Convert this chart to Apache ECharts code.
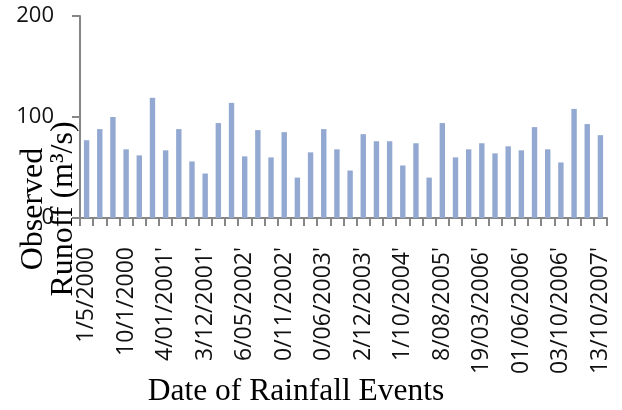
<!DOCTYPE html>
<html>
<head>
<meta charset="utf-8">
<script src="https://cdn.jsdelivr.net/npm/echarts@6/dist/echarts.min.js"></script>
<style>
  html, body { margin: 0; padding: 0; background: #fff; }
  #chart { width: 622px; height: 410px; }
</style>
</head>
<body>
<div id="chart"></div>
<script>
// Observed runoff for each rainfall event, in order of occurrence (m³/s)
const runoff = [
  77, 88, 100, 68, 62, 119, 67, 88, 56, 44,
  94, 114, 61, 87, 60, 85, 40, 65, 88, 68,
  47, 83, 76, 76, 52, 74, 40, 94, 60, 68,
  74, 64, 71, 67, 90, 68, 55, 108, 93, 82
];

// Event dates printed under every third bar
const tickLabels = [
  '1/5/2000', '10/1/2000', "4/01/2001'", "3/12/2001'", "6/05/2002'",
  "0/11/2002'", "0/06/2003'", "2/12/2003'", "1/10/2004'", "8/08/2005'",
  "19/03/2006'", "01/06/2006'", "03/10/2006'", "13/10/2007'"
];

const labelStep = 3;
const yTicks = [0, 100, 200];

const eventIndex = runoff.map((_, i) => String(i + 1));

const axisGray = '#868686';
const chart = echarts.init(document.getElementById('chart'), null, { renderer: 'canvas' });

chart.setOption({
  animation: false,
  grid: { left: 80, right: 15, top: 16, bottom: 192, containLabel: false },
  xAxis: {
    type: 'category',
    data: eventIndex,
    boundaryGap: true,
    axisLine: { lineStyle: { color: axisGray, width: 2 } },
    axisTick: { show: true, interval: 0, length: 8, lineStyle: { color: axisGray, width: 2 } },
    axisLabel: {
      interval: labelStep - 1,
      rotate: 90,
      margin: 29,
      fontFamily: 'Open Sans',
      fontSize: 23,
      color: '#111',
      formatter: (v, i) => tickLabels[Math.round(i / labelStep)] ?? ''
    },
    splitLine: { show: false }
  },
  yAxis: {
    type: 'value',
    min: yTicks[0],
    max: yTicks[yTicks.length - 1],
    interval: yTicks[1] - yTicks[0],
    axisLine: { show: true, lineStyle: { color: axisGray, width: 2 } },
    axisTick: { show: true, length: 8, lineStyle: { color: axisGray, width: 2 } },
    axisLabel: {
      margin: 26,
      fontFamily: 'Open Sans',
      fontSize: 22,
      color: '#111'
    },
    splitLine: { show: false }
  },
  series: [{
    type: 'bar',
    data: runoff,
    barWidth: '41%',
    itemStyle: { color: '#93a9d2' }
  }],
  graphic: [
    {
      type: 'text',
      x: 49,
      y: 209,
      rotation: Math.PI / 2,
      style: {
        text: 'Observed\nRunoff (m³/s)',
        font: '32px "Liberation Serif"',
        lineHeight: 30,
        fill: '#000',
        align: 'center',
        verticalAlign: 'middle'
      }
    },
    {
      type: 'text',
      x: 296,
      y: 392,
      style: {
        text: 'Date of Rainfall Events',
        font: '31.5px "Liberation Serif"',
        fill: '#000',
        align: 'center',
        verticalAlign: 'middle'
      }
    }
  ]
});
</script>
</body>
</html>
